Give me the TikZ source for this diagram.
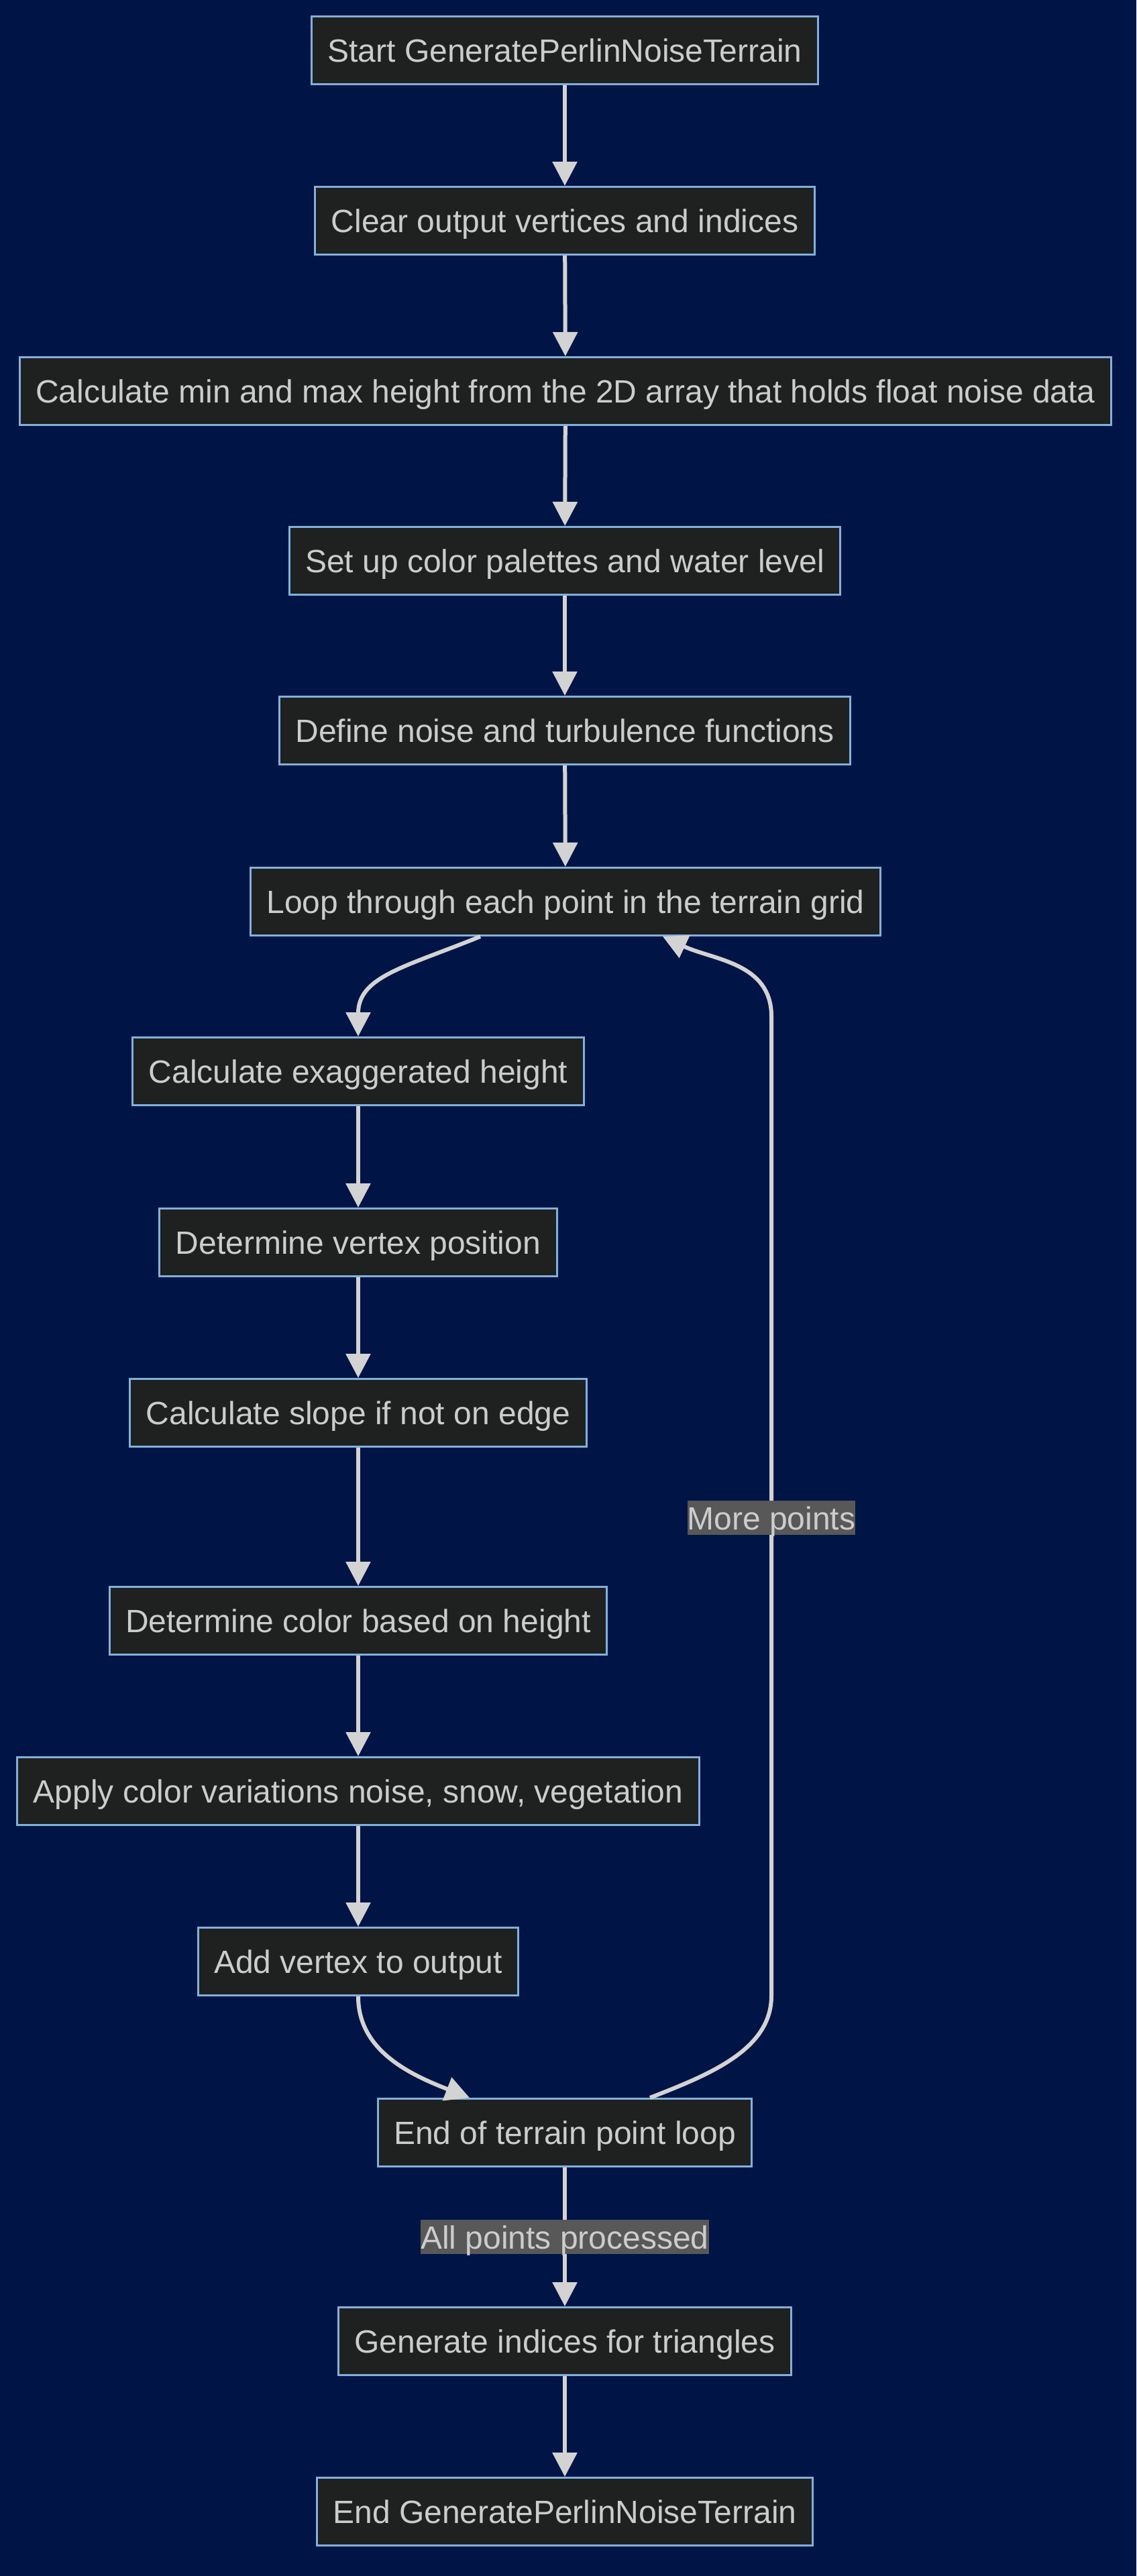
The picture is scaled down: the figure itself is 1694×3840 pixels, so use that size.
\documentclass[tikz,border=0pt]{standalone}
\usepackage{fontspec}
\setmainfont{Liberation Sans}
\usetikzlibrary{arrows.meta}
\definecolor{navybg}{RGB}{1,20,70}
\definecolor{boxfill}{HTML}{1F2020}
\definecolor{boxline}{HTML}{81B1DB}
\definecolor{textgray}{HTML}{CCCCCC}
\definecolor{linegray}{HTML}{D3D3D3}
\definecolor{labelfill}{HTML}{585858}

\begin{document}
\begin{tikzpicture}[x=0.5pt, y=-0.5pt,
        stepbox/.style={draw=boxline, line width=1.5pt, fill=boxfill, text=textgray, minimum height=50.5pt, inner xsep=12pt, text height=17.5pt, text depth=0pt, font=\fontsize{24pt}{28pt}\selectfont},
        edgelabel/.style={fill=labelfill, text=textgray, inner xsep=0pt, inner ysep=0pt, minimum height=25.5pt, text height=17.5pt, text depth=0pt, font=\fontsize{24pt}{28pt}\selectfont},
        flow/.style={draw=linegray, line width=3pt, -{Triangle[length=18pt, width=18pt]}}]
    \fill[navybg] (0,0) rectangle (1694,3840);
    \useasboundingbox (0,0) rectangle (1694,3840);

    \node[stepbox] (start) at (842,75) {Start GeneratePerlinNoiseTerrain};
    \node[stepbox] (clear) at (842,329) {Clear output vertices and indices};
    \node[stepbox] (minmax) at (843,583) {Calculate min and max height from the 2D array that holds float noise data};
    \node[stepbox] (palette) at (842,836) {Set up color palettes and water level};
    \node[stepbox] (funcs) at (842,1089) {Define noise and turbulence functions};
    \node[stepbox] (loop) at (843,1344) {Loop through each point in the terrain grid};
    \node[stepbox] (height) at (534,1597) {Calculate exaggerated height};
    \node[stepbox] (vertex) at (534,1852) {Determine vertex position};
    \node[stepbox] (slope) at (534,2106) {Calculate slope if not on edge};
    \node[stepbox] (color) at (534,2416) {Determine color based on height};
    \node[stepbox] (vary) at (534,2670) {Apply color variations noise, snow, vegetation};
    \node[stepbox] (addv) at (534,2924) {Add vertex to output};
    \node[stepbox] (endloop) at (842,3179) {End of terrain point loop};
    \node[stepbox] (indices) at (842,3490) {Generate indices for triangles};
    \node[stepbox] (finish) at (842,3744) {End GeneratePerlinNoiseTerrain};

    \coordinate (rbot) at (1150,2975);
    \coordinate (rtop) at (1150,1515);

    \draw[flow] (start) -- (clear);
    \draw[flow] (clear) -- (minmax);
    \draw[flow] (minmax) -- (palette);
    \draw[flow] (palette) -- (funcs);
    \draw[flow] (funcs) -- (loop);
    \draw[flow] ([xshift=-63.5pt]loop.south) .. controls +(-110,45) and +(0,-90) .. (height.north);
    \draw[flow] (height) -- (vertex);
    \draw[flow] (vertex) -- (slope);
    \draw[flow] (slope) -- (color);
    \draw[flow] (color) -- (vary);
    \draw[flow] (vary) -- (addv);
    \draw[flow] (addv.south) .. controls +(0,80) and +(-90,-35) .. ([xshift=-71pt]endloop.north);
    \draw[flow] ([xshift=63.5pt]endloop.north) .. controls +(90,-35) and +(0,80) .. (rbot) -- node[edgelabel, pos=0.488] {More points} (rtop) .. controls +(0,-80) and +(75,35) .. ([xshift=72.5pt]loop.south);
    \draw[flow] (endloop) -- node[edgelabel] {All points processed} (indices);
    \draw[flow] (indices) -- (finish);
\end{tikzpicture}
\end{document}
